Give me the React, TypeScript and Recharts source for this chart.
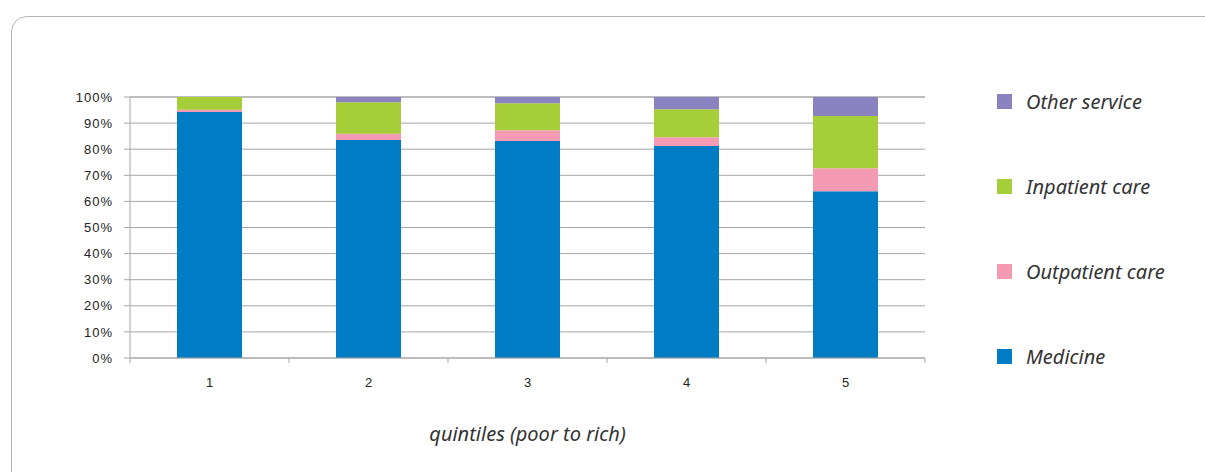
import React from 'react';
import { BarChart, Bar, XAxis, YAxis, CartesianGrid, Legend } from 'recharts';

const quintiles = ['1', '2', '3', '4', '5'];
const medicine = [94.3, 83.5, 83.1, 81.2, 63.9];
const outpatient = [0.8, 2.4, 4.2, 3.4, 8.8];
const inpatient = [4.9, 12.1, 10.3, 10.7, 20.0];
const otherService = [0, 2.0, 2.4, 4.7, 7.3];
const yTicks = [0, 10, 20, 30, 40, 50, 60, 70, 80, 90, 100];

const seriesNames = ['Medicine', 'Outpatient care', 'Inpatient care', 'Other service'];
const seriesKeys = ['medicine', 'outpatient', 'inpatient', 'other'];
const seriesColors = ['#007CC4', '#F59AB3', '#A6CE39', '#8A83C0'];

const data = quintiles.map((q, i) => ({
  q,
  medicine: medicine[i],
  outpatient: outpatient[i],
  inpatient: inpatient[i],
  other: otherService[i],
}));

const W = 1205;
const H = 472;
const PLOT_LEFT = 130;
const PLOT_RIGHT = 925;
const PLOT_TOP = 97;
const PLOT_BOTTOM = 358;
const HALF_BAND = (PLOT_RIGHT - PLOT_LEFT) / quintiles.length / 2;
const GRID = '#A6A6A6';
const ITALIC_FONT = "'Noto Sans', sans-serif";

const XTick = (props: any) => {
  const { x, y, payload, index } = props;
  return (
    <g>
      {index === 0 && <line x1={x - HALF_BAND} x2={x - HALF_BAND} y1={y} y2={y + 5} stroke={GRID} />}
      <line x1={x + HALF_BAND} x2={x + HALF_BAND} y1={y} y2={y + 5} stroke={GRID} />
      <text x={x} y={y + 29} textAnchor="middle" fontSize={13} fill="#222" fontFamily="'Liberation Sans', Arial, sans-serif">
        {payload.value}
      </text>
    </g>
  );
};

const LegendContent = () => {
  const order = [3, 2, 1, 0];
  return (
    <div style={{ width: 215 }}>
      {order.map((i) => (
        <div key={i} style={{ height: 85, display: 'flex', alignItems: 'center' }}>
          <div style={{ width: 15, height: 15, background: seriesColors[i], marginRight: 14 }} />
          <span style={{ fontFamily: ITALIC_FONT, fontStyle: 'italic', fontSize: 20, color: '#333', whiteSpace: 'nowrap' }}>
            {seriesNames[i]}
          </span>
        </div>
      ))}
    </div>
  );
};

export default function App() {
  return (
    <div style={{ position: 'absolute', left: 0, top: 0, width: W, height: H, overflow: 'hidden', background: '#fff' }}>
      <div
        style={{
          position: 'absolute',
          left: 11,
          top: 16,
          width: 1240,
          height: 520,
          border: '1px solid #B4B4B4',
          borderRadius: 16,
          boxSizing: 'border-box',
        }}
      />
      <div style={{ position: 'absolute', left: 0, top: 0 }}>
        <BarChart
          width={W}
          height={H}
          data={data}
          margin={{ top: PLOT_TOP, right: W - PLOT_RIGHT, bottom: 0, left: 0 }}
          barSize={65}
        >
          <CartesianGrid vertical={false} stroke={GRID} strokeWidth={1} />
          <XAxis
            dataKey="q"
            height={H - PLOT_BOTTOM}
            axisLine={{ stroke: GRID }}
            tickLine={false}
            tickSize={0}
            tickMargin={0}
            tick={<XTick />}
            interval={0}
            label={{
              value: 'quintiles (poor to rich)',
              position: 'insideBottom',
              offset: 31,
              style: { fontFamily: ITALIC_FONT, fontStyle: 'italic', fontSize: 20, fill: '#333' },
            }}
          />
          <YAxis
            width={PLOT_LEFT}
            domain={[0, 100]}
            ticks={yTicks}
            interval={0}
            tickFormatter={(v: number) => `${v}%`}
            axisLine={{ stroke: GRID }}
            tickLine={{ stroke: GRID }}
            tickSize={6}
            tickMargin={11}
            tick={{ fontSize: 13, fill: '#222', fontFamily: "'Liberation Sans', Arial, sans-serif", letterSpacing: 1 }}
          />
          <Legend
            layout="vertical"
            align="center"
            verticalAlign="middle"
            content={<LegendContent />}
            wrapperStyle={{ left: 997, top: 59, width: 215 }}
          />
          {seriesKeys.map((k, i) => (
            <Bar key={k} dataKey={k} name={seriesNames[i]} stackId="a" fill={seriesColors[i]} isAnimationActive={false} />
          ))}
        </BarChart>
      </div>
    </div>
  );
}
